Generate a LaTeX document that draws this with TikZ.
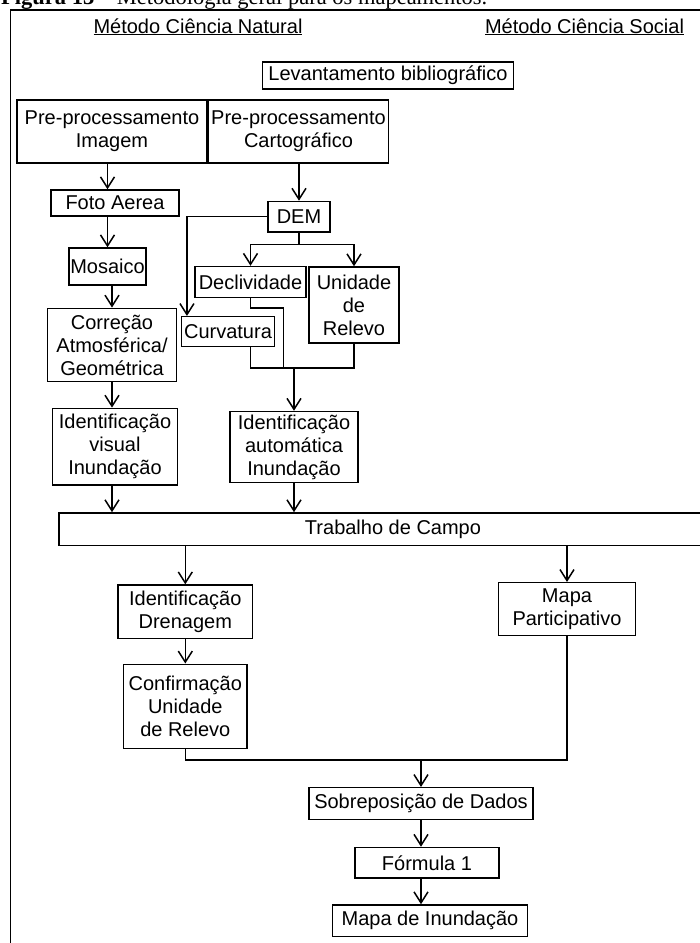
\documentclass[tikz,border=0pt]{standalone}
\usepackage{fontspec}
\setmainfont{Liberation Sans}
\newfontfamily\capfont{Liberation Serif}
\usetikzlibrary{arrows.meta,
                positioning}
\tikzstyle{box} = [draw,line width=1.5pt,inner sep=0pt,align=center]
\tikzstyle{line} = [line width=1.5pt]
\tikzstyle{arrow} = [line width=1.5pt,->,>={Straight Barb[length=11pt,width=14pt]}]

\begin{document}
\begin{tikzpicture}[x=1pt,y=-1pt,every node/.style={font=\fontsize{20}{23}\selectfont}]
    \fill[white] (0,0) rectangle (700,943);
    \useasboundingbox (0,0) rectangle (700,943);

    \node[anchor=base west,inner sep=0pt,font=\capfont\fontsize{22.5}{25}\selectfont] (caption) at (1,4) {\textbf{Figura 13} – Metodologia geral para os mapeamentos.};
    \draw[line] (10.5,960) -- (10.5,10) -- (720,10);

    \node[anchor=base] (natural) at (198,33) {\underline{Método Ciência Natural}};
    \node[anchor=base] (social) at (584.5,33) {\underline{Método Ciência Social}};

    \node[box,minimum width=251pt,minimum height=27pt] (lev) at (388,75.5) {Levantamento bibliográfico};
    \node[box,minimum width=190pt,minimum height=63pt] (preimg) at (112,131.5) {Pre-processamento\\Imagem};
    \node[box,minimum width=180pt,minimum height=63pt] (precart) [right=0pt of preimg] {Pre-processamento\\Cartográfico};

    \node[box,minimum width=128pt,minimum height=26pt] (foto) at (115,203) {Foto Aerea};
    \node[box,minimum width=77pt,minimum height=37pt] (mos) at (107.5,266.5) {Mosaico};
    \node[box,minimum width=129pt,minimum height=73.4pt] (corr) at (112,345) {Correção\\Atmosférica/\\Geométrica};
    \node[box,minimum width=125.4pt,minimum height=76.7pt] (idvis) at (115,446.7) {Identificação\\visual\\Inundação};

    \node[box,minimum width=62pt,minimum height=30.5pt] (dem) at (299,216.7) {DEM};
    \node[box,minimum width=111pt,minimum height=31pt] (decl) at (250.5,282) {Declividade};
    \node[box,minimum width=90pt,minimum height=76pt] (uni) at (354,305) {Unidade\\de\\Relevo};
    \node[box,minimum width=92.6pt,minimum height=30pt] (curv) at (228,331.7) {Curvatura};
    \node[box,minimum width=128.4pt,minimum height=71pt] (idauto) at (294,447) {Identificação\\automática\\Inundação};

    \node[box,minimum width=668pt,minimum height=32.7pt] (campo) at (393,529.3) {Trabalho de Campo};

    \node[box,minimum width=134.8pt,minimum height=53.3pt] (dren) at (185.3,611.7) {Identificação\\Drenagem};
    \node[box,minimum width=123.4pt,minimum height=84pt] (conf) [below=24.4pt of dren] {Confirmação\\Unidade\\de Relevo};
    \node[box,minimum width=136.6pt,minimum height=53pt] (mapa) at (567,609.2) {Mapa\\Participativo};

    \node[box,minimum width=223.7pt,minimum height=31.6pt] (sobr) at (421,803.5) {Sobreposição de Dados};
    \node[box,minimum width=144pt,minimum height=30.7pt] (form) [below=26.7pt of sobr,xshift=6pt] {Fórmula 1};
    \node[box,minimum width=195.4pt,minimum height=31.3pt] (mapin) [below=25.3pt of form,xshift=3pt] {Mapa de Inundação};

    \coordinate (split) at ([yshift=-12pt]dem.south);
    \coordinate (dj) at ([xshift=8.4pt]curv.east);
    \coordinate (mrg) at ([yshift=42.7pt]idauto.north);
    \coordinate (mrg2) at ([yshift=27pt]sobr.north);

    \draw [arrow] (preimg.south -| mos) -- (foto.north -| mos);
    \draw [arrow] (foto.south -| mos) -- (mos);
    \draw [arrow] (mos.south -| corr) -- (corr);
    \draw [arrow] (corr) -- (idvis.north -| corr);
    \draw [arrow] (idvis.south -| corr) -- (campo.north -| corr);

    \draw [arrow] (precart.south -| dem) -- (dem);
    \draw [arrow] (dem.west) -| ([xshift=6pt]curv.north west);
    \draw [line] (dem.south) -- (split);
    \draw [arrow] (split) -| (decl);
    \draw [arrow] (split) -| (uni);
    \draw [line] (decl.south) -- ++(0,9.6) -| (dj |- mrg);
    \draw [line] (curv.south -| decl) |- (uni.south |- mrg) -- (uni.south);
    \draw [arrow] (mrg) -- (idauto);
    \draw [arrow] (idauto) -- (idauto |- campo.north);

    \draw [arrow] (campo.south -| dren) -- (dren);
    \draw [arrow] (campo.south -| mapa) -- (mapa);
    \draw [arrow] (dren) -- (conf);
    \draw [line] (conf.south) |- (mrg2) -| (mapa.south);
    \draw [arrow] (mrg2) -- (sobr);
    \draw [arrow] (sobr.south) -- (form.north -| sobr);
    \draw [arrow] (form.south -| sobr) -- (mapin.north -| sobr);
\end{tikzpicture}
\end{document}
